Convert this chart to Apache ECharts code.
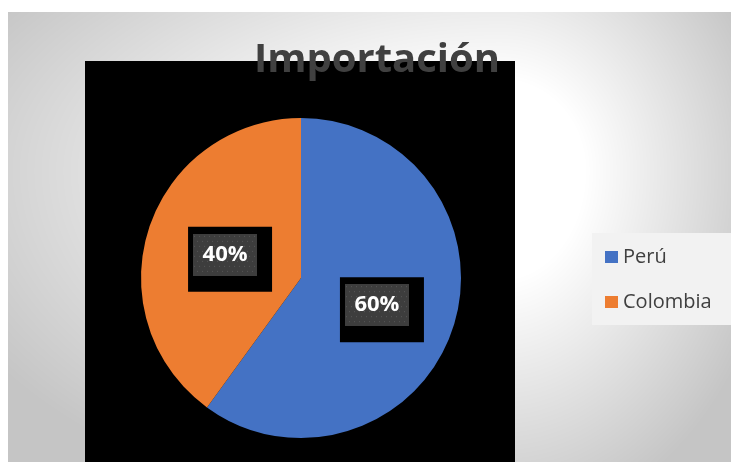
<!DOCTYPE html>
<html>
<head>
<meta charset="utf-8">
<script src="https://cdn.jsdelivr.net/npm/echarts@6/dist/echarts.min.js"></script>
<style>
  html, body { margin: 0; padding: 0; background: #ffffff; }
  #chart { width: 731px; height: 462px; }
</style>
</head>
<body>
<div id="chart"></div>
<script>
// Import share by country of origin
const titleText = 'Importación';
const countries = ['Perú', 'Colombia'];
const shares = [60, 40];
const sliceColors = ['#4472C4', '#ED7D31'];
// nudges for each slice's label tile
const labelOffsets = [[2, 6], [8, 7]];

// Small dotted texture for the percentage label tiles
function dottedTile(w, h) {
  const c = document.createElement('canvas');
  c.width = w; c.height = h;
  const ctx = c.getContext('2d');
  ctx.fillStyle = '#3d3d3d';
  ctx.fillRect(0, 0, w, h);
  ctx.fillStyle = '#575757';
  for (let y = 2, row = 0; y < h; y += 5, row++) {
    for (let x = (row % 2 ? 4 : 1); x < w; x += 5) {
      ctx.fillRect(x, y, 1, 1);
    }
  }
  return c;
}

// Soft off-centre light-to-grey backdrop
function backdrop(w, h) {
  const c = document.createElement('canvas');
  c.width = w; c.height = h;
  const ctx = c.getContext('2d');
  const img = ctx.createImageData(w, h);
  const cx = 492, cy = 158;
  const sxL = 600, sxR = 280, syU = 300, syD = 360;
  for (let y = 0; y < h; y++) {
    for (let x = 0; x < w; x++) {
      const dx = x - cx, dy = y - cy;
      const u = dx / (dx < 0 ? sxL : sxR);
      const v = dy / (dy < 0 ? syU : syD);
      const t = Math.sqrt(u * u + v * v);
      let k = (t - 0.3) / 0.7;
      k = Math.max(0, Math.min(1, k));
      const g = Math.round(255 - k * 58);
      const i = (y * w + x) * 4;
      img.data[i] = g; img.data[i + 1] = g; img.data[i + 2] = g; img.data[i + 3] = 255;
    }
  }
  ctx.putImageData(img, 0, 0);
  return c;
}

const tile = dottedTile(64, 42);
const bg = backdrop(723, 450);

const chart = echarts.init(document.getElementById('chart'), null, { renderer: 'canvas' });

const option = {
  animation: false,
  color: sliceColors,
  graphic: [
    {
      type: 'image', z: -10, silent: true,
      x: 8, y: 12,
      style: { image: bg, x: 0, y: 0, width: 723, height: 450 }
    },
    {
      type: 'rect', z: -5, silent: true,
      shape: { x: 85, y: 61, width: 430, height: 401 },
      style: { fill: '#000000' }
    }
  ],
  title: {
    text: titleText,
    left: 372,
    textAlign: 'center',
    top: 36,
    z: 10,
    textStyle: {
      fontFamily: 'Open Sans',
      fontWeight: 'bold',
      fontSize: 40,
      color: '#404040'
    }
  },
  legend: {
    orient: 'vertical',
    left: 592,
    top: 233,
    padding: [14, 30, 13, 13],
    itemGap: 25,
    itemWidth: 13,
    itemHeight: 12,
    icon: 'rect',
    backgroundColor: '#f2f2f2',
    data: countries,
    textStyle: {
      fontFamily: 'Open Sans',
      fontSize: 20,
      color: '#404040'
    }
  },
  series: [
    {
      type: 'pie',
      center: [301, 278],
      radius: 160,
      startAngle: 90,
      clockwise: true,
      percentPrecision: 0,
      itemStyle: { borderWidth: 0 },
      label: {
        show: true,
        position: 'inside',
        formatter: '{a|{d}%}',
        backgroundColor: '#000000',
        padding: [7, 15, 16, 5],
        rich: {
          a: {
            width: 64,
            height: 42,
            lineHeight: 42,
            align: 'center',
            verticalAlign: 'middle',
            color: '#ffffff',
            fontFamily: 'Open Sans',
            fontWeight: 'bold',
            fontSize: 22,
            backgroundColor: { image: tile }
          }
        }
      },
      labelLine: { show: false },
      emphasis: { disabled: true },
      data: countries.map((name, i) => ({
        name: name,
        value: shares[i],
        label: { offset: labelOffsets[i] }
      }))
    }
  ]
};

chart.setOption(option);
</script>
</body>
</html>
